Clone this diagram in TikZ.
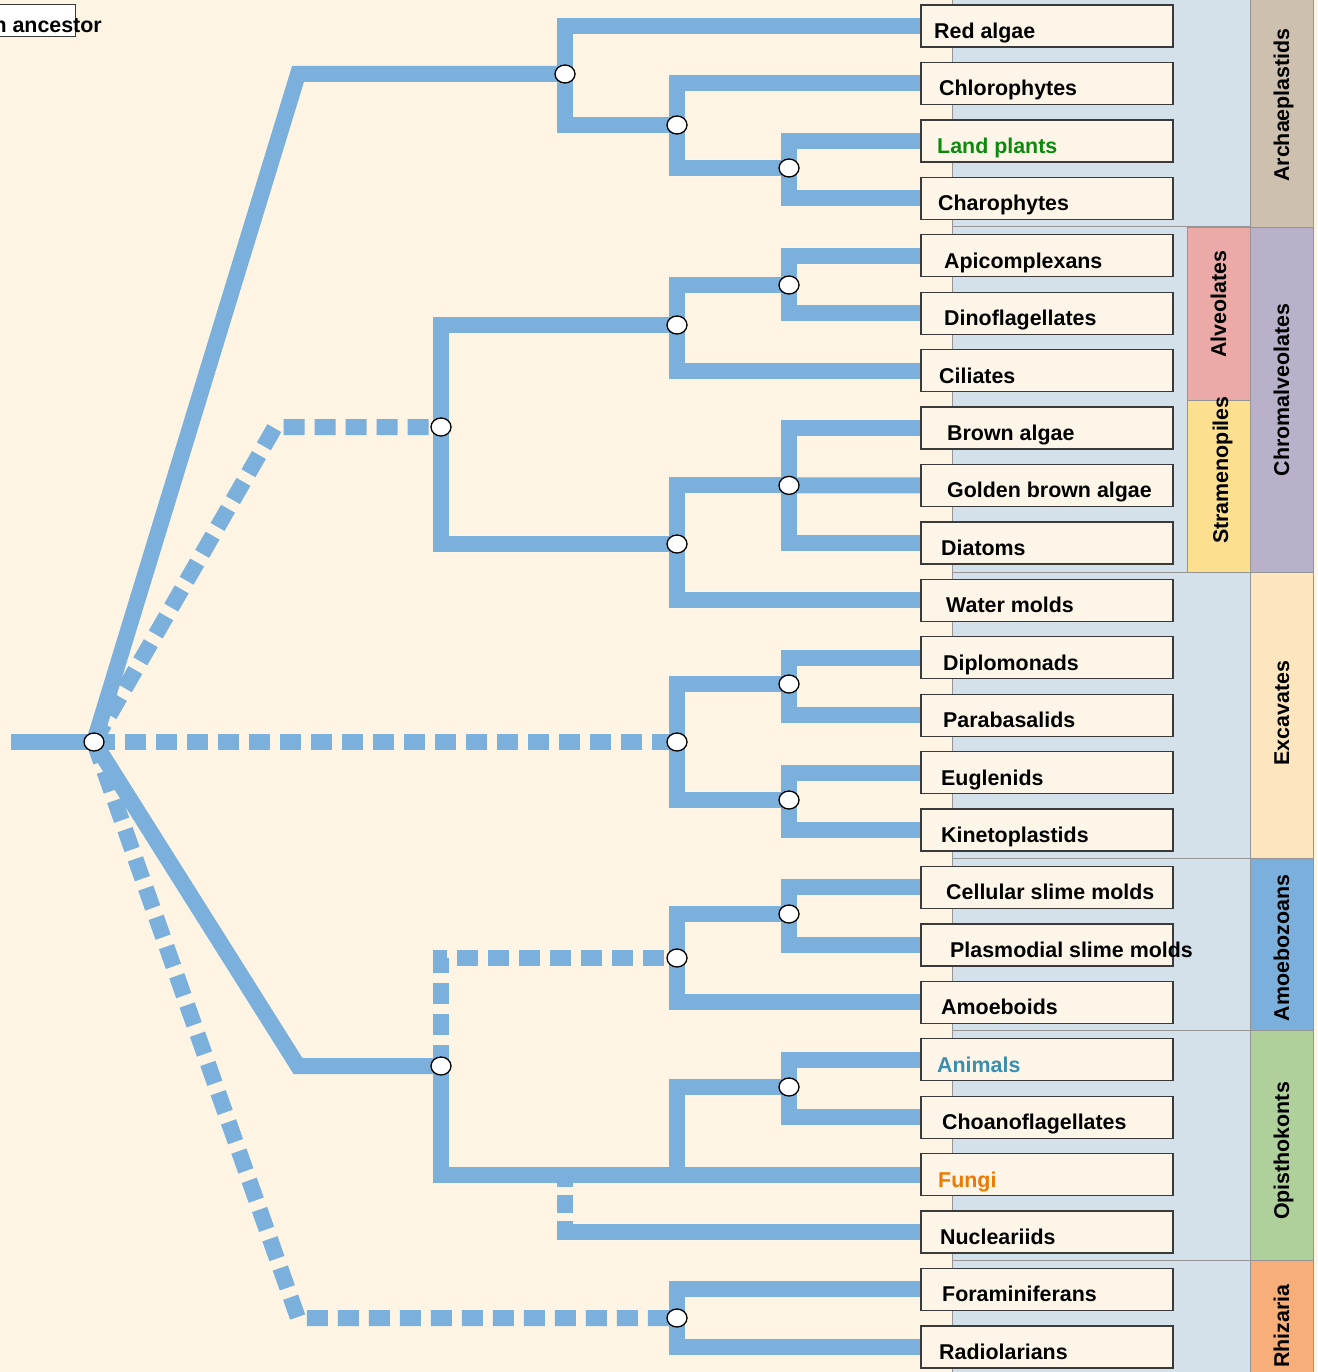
\documentclass[tikz,border=0pt]{standalone}
\usepackage{fontspec}
\setmainfont{Liberation Sans}
\usetikzlibrary{shapes.geometric}
\definecolor{cream}{HTML}{FDF4E3}
\definecolor{boxfill}{HTML}{FDF6E8}
\definecolor{panel}{HTML}{D4E0EA}
\definecolor{branchblue}{HTML}{7BAFDC}
\definecolor{sepgray}{HTML}{959595}
\definecolor{boxedge}{HTML}{3A3A3A}
\definecolor{landgreen}{HTML}{0B8A0B}
\definecolor{animalblue}{HTML}{3A8EB0}
\definecolor{fungiorange}{HTML}{EE7800}
\definecolor{archc}{HTML}{CEC0AF}
\definecolor{chromc}{HTML}{B9B0CA}
\definecolor{excc}{HTML}{FDE6BD}
\definecolor{amoc}{HTML}{7BAFDC}
\definecolor{opic}{HTML}{B0D09B}
\definecolor{rhic}{HTML}{F7AE78}
\definecolor{alvc}{HTML}{EBAAA7}
\definecolor{strc}{HTML}{FCE08F}
\pgfdeclarelayer{bg}
\pgfdeclarelayer{lines}
\pgfsetlayers{bg,lines,main}
\begin{document}
\begin{tikzpicture}[x=1pt,y=-1pt,
  labfont/.style={font=\fontsize{21.4}{25}\selectfont\bfseries},
  taxonbox/.style={draw=boxedge,line width=1.3pt,fill=boxfill,minimum width=252pt,minimum height=42pt,inner sep=0pt},
  taxonlab/.style={labfont,inner sep=0pt,anchor=base west},
  grouplab/.style={labfont,inner sep=0pt,anchor=base,rotate=90},
  fork/.style={ellipse,draw=black,line width=1.3pt,fill=white,minimum width=20pt,minimum height=18pt,inner sep=0pt},
  branch/.style={draw=branchblue,line width=16pt,line join=miter,line cap=butt},
  dbranch/.style={branch,dash pattern=on 21pt off 10pt},
  groupbar/.style={draw=sepgray,line width=0.8pt},
  sepline/.style={draw=sepgray,line width=1pt}]
\useasboundingbox (0,0) rectangle (1317,1372);
\begin{pgfonlayer}{bg}
  \fill[cream] (0,0) rectangle (1317,1372);
  \fill[panel] (952,0) rectangle (1250,1372);
  \draw[sepline] (952,0) -- (952,1372);
  \foreach \yy in {227,572,858,1030,1260} {\draw[sepline] (952,\yy) -- (1250,\yy);}
  \draw[groupbar,fill=alvc] (1187,227) rectangle (1250,400);
  \draw[groupbar,fill=strc] (1187,400) rectangle (1250,572);
  \draw[groupbar,fill=archc] (1250,-2) rectangle (1313,227);
  \draw[groupbar,fill=chromc] (1250,227) rectangle (1313,572);
  \draw[groupbar,fill=excc] (1250,572) rectangle (1313,858);
  \draw[groupbar,fill=amoc] (1250,858) rectangle (1313,1030);
  \draw[groupbar,fill=opic] (1250,1030) rectangle (1313,1260);
  \draw[groupbar,fill=rhic] (1250,1260) rectangle (1313,1374);
\end{pgfonlayer}

% group labels
\node[grouplab] (gArch) at (1289,105) {Archaeplastids};
\node[grouplab] (gChrom) at (1289,390) {Chromalveolates};
\node[grouplab] (gExc) at (1289,713) {Excavates};
\node[grouplab] (gAmo) at (1289,948) {Amoebozoans};
\node[grouplab] (gOpi) at (1289,1151) {Opisthokonts};
\node[grouplab] (gRhi) at (1289,1326) {Rhizaria};
\node[grouplab] (gAlv) at (1226,304) {Alveolates};
\node[grouplab] (gStr) at (1228,470) {Stramenopiles};

% taxon boxes
\foreach \i/\t/\x/\c in {0/Red algae/934/black,1/Chlorophytes/939/black,2/Land plants/937/landgreen,3/Charophytes/938/black,4/Apicomplexans/944/black,5/Dinoflagellates/944/black,6/Ciliates/939/black,7/Brown algae/947/black,8/Golden brown algae/947/black,9/Diatoms/941/black,10/Water molds/946/black,11/Diplomonads/943/black,12/Parabasalids/943/black,13/Euglenids/941/black,14/Kinetoplastids/941/black,15/Cellular slime molds/946/black,16/Plasmodial slime molds/950/black,17/Amoeboids/941/black,18/Animals/937/animalblue,19/Choanoflagellates/942/black,20/Fungi/938/fungiorange,21/Nucleariids/940/black,22/Foraminiferans/942/black,23/Radiolarians/939/black} {
  \node[taxonbox] (L\i) at (1047,26+57.43*\i) {};
  \node[taxonlab,text=\c] (T\i) at (\x,38.5+57.43*\i) {\t};
}

% top-left label (cut at the left edge, as in the reference)
\node[draw=boxedge,line width=0.8pt,fill=white,minimum width=77pt,minimum height=32pt,inner sep=0pt] (topbox) at (36.5,20) {};
\node[labfont,inner sep=0pt,anchor=base east] (anc) at (102,33) {n ancestor};

% fork points
\node[fork] (R) at (94,742) {};
\node[fork] (A1) at (565,74) {};
\node[fork] (A2) at (677,125) {};
\node[fork] (A3) at (789,168) {};
\node[fork] (C1) at (441,427) {};
\node[fork] (C2) at (677,325) {};
\node[fork] (C3) at (789,285) {};
\node[fork] (C5) at (677,544) {};
\node[fork] (C6) at (789,485.4) {};
\node[fork] (E1) at (677,742) {};
\node[fork] (E2) at (789,684) {};
\node[fork] (E3) at (789,800) {};
\node[fork] (U1) at (441,1066) {};
\node[fork] (U2) at (677,958) {};
\node[fork] (U3) at (789,914) {};
\node[fork] (U4) at (789,1087) {};
\node[fork] (H1) at (677,1318) {};

\coordinate (stub) at (11,742);
\coordinate (aC) at (298,74);
\coordinate (cC) at (275,427);
\coordinate (uC) at (298,1066);
\coordinate (hC) at (298,1318);
\coordinate (J) at (677,1174.6);
\coordinate (K) at (565,1174.6);

\begin{pgfonlayer}{lines}
  \draw[branch] (stub) -- (R.center);
  % Archaeplastids
  \draw[branch] (R.center) -- (aC) -- (A1.center);
  \draw[branch] (L0.west) -| (A1.center) |- (A2.center);
  \draw[branch] (L1.west) -| (A2.center) |- (A3.center);
  \draw[branch] (L2.west) -| (A3.center) |- (L3.west);
  % Chromalveolates
  \draw[dbranch] (R.center) -- (cC) -- (C1.center);
  \draw[branch] (C2.center) -| (C1.center) |- (C5.center);
  \draw[branch] (C3.center) -| (C2.center) |- (L6.west);
  \draw[branch] (L4.west) -| (C3.center) |- (L5.west);
  \draw[branch] (C6.center) -| (C5.center) |- (L10.west);
  \draw[branch] (L7.west) -| (C6.center) |- (L9.west);
  \draw[branch] (C6.center) -- (L8.west);
  % Excavates
  \draw[dbranch] (R.center) -- (E1.center);
  \draw[branch] (E2.center) -| (E1.center) |- (E3.center);
  \draw[branch] (L11.west) -| (E2.center) |- (L12.west);
  \draw[branch] (L13.west) -| (E3.center) |- (L14.west);
  % Unikonts
  \draw[branch] (R.center) -- (uC) -- (U1.center);
  \draw[dbranch] (U1.center) |- (U2.center);
  \draw[branch] (U3.center) -| (U2.center) |- (L17.west);
  \draw[branch] (L15.west) -| (U3.center) |- (L16.west);
  \draw[branch] (U1.center) |- (L20.west);
  \draw[branch] (U4.center) -| (J);
  \draw[branch] (L18.west) -| (U4.center) |- (L19.west);
  \draw[branch,dash pattern=on 12.5pt off 8pt on 18pt off 8pt on 2000pt] (K) |- (L21.west);
  % Rhizaria
  \draw[dbranch] (R.center) -- (hC) -- (H1.center);
  \draw[branch] (L22.west) -| (H1.center) |- (L23.west);
\end{pgfonlayer}
\end{tikzpicture}
\end{document}
